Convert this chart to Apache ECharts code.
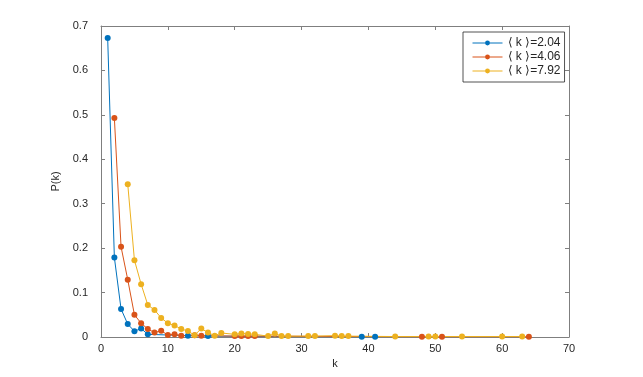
<!DOCTYPE html>
<html>
<head>
<meta charset="utf-8">
<script src="https://cdn.jsdelivr.net/npm/echarts@6/dist/echarts.min.js"></script>
<style>
  html, body { margin: 0; padding: 0; background: #fff; }
  #chart { width: 643px; height: 377px; }
</style>
</head>
<body>
<div id="chart"></div>
<script>
// degree distributions
var names = ['\u27e8 k \u27e9=2.04', '\u27e8 k \u27e9=4.06', '\u27e8 k \u27e9=7.92'];
var colors = ['#0072BD', '#D95319', '#EDB120'];

var k1 = [1, 2, 3, 4, 5, 6, 7, 13, 16, 39, 41];
var p1 = [0.673, 0.179, 0.063, 0.029, 0.013, 0.019, 0.006, 0.003, 0.002, 0.0005, 0.0005];

var k2 = [2, 3, 4, 5, 6, 7, 8, 9, 10, 11, 12, 14, 15, 20, 21, 22, 23, 48, 51, 64];
var p2 = [0.493, 0.203, 0.129, 0.050, 0.031, 0.018, 0.010, 0.014, 0.0045, 0.006, 0.003, 0.004, 0.003, 0.002, 0.002, 0.002, 0.002, 0.0005, 0.0005, 0.0005];

var k3 = [4, 5, 6, 7, 8, 9, 10, 11, 12, 13, 14, 15, 16, 17, 18, 20, 21, 22, 23, 25, 26, 27, 28, 31, 32, 35, 36, 37, 44, 49, 50, 54, 60, 63];
var p3 = [0.344, 0.173, 0.119, 0.072, 0.061, 0.043, 0.031, 0.026, 0.018, 0.0135, 0.004, 0.019, 0.010, 0.003, 0.009, 0.006, 0.008, 0.007, 0.006, 0.002, 0.008, 0.002, 0.002, 0.002, 0.002, 0.003, 0.002, 0.002, 0.001, 0.001, 0.001, 0.001, 0.001, 0.001];

var xTicks = [0, 10, 20, 30, 40, 50, 60, 70];
var yTicks = [0, 0.1, 0.2, 0.3, 0.4, 0.5, 0.6, 0.7];

function pairs(ks, ps) {
    return ks.map(function (k, i) { return [k, ps[i]]; });
}

var myChart = echarts.init(document.getElementById('chart'));

var axisCol = '#7f7f7f';
var textCol = '#262626';

function xAx(pos, labels) {
    return {
        type: 'value', position: pos, min: xTicks[0], max: xTicks[xTicks.length - 1], interval: 10,
        name: labels ? 'k' : '', nameLocation: 'middle', nameGap: 18,
        nameTextStyle: { color: textCol, fontSize: 11, fontFamily: 'Liberation Sans' },
        axisLine: { show: true, onZero: false, lineStyle: { color: axisCol, width: 1 } },
        axisTick: { show: true, inside: true, length: 4, lineStyle: { color: axisCol } },
        axisLabel: { show: labels, color: textCol, fontSize: 11, fontFamily: 'Liberation Sans', margin: 6 },
        splitLine: { show: false }
    };
}
function yAx(pos, labels) {
    return {
        type: 'value', position: pos, min: yTicks[0], max: yTicks[yTicks.length - 1], interval: 0.1,
        name: labels ? 'P(k)' : '', nameLocation: 'middle', nameGap: 30,
        nameTextStyle: { color: textCol, fontSize: 11, fontFamily: 'Liberation Sans' },
        axisLine: { show: true, onZero: false, lineStyle: { color: axisCol, width: 1 } },
        axisTick: { show: true, inside: true, length: 4, lineStyle: { color: axisCol } },
        axisLabel: {
            show: labels, color: textCol, fontSize: 11, fontFamily: 'Liberation Sans', margin: 13,
            formatter: function (v) { return String(Math.round(v * 10) / 10); }
        },
        splitLine: { show: false }
    };
}

function line(i, data) {
    return {
        name: names[i], type: 'line', data: data,
        xAxisIndex: 0, yAxisIndex: 0,
        symbol: 'circle', symbolSize: 6, showAllSymbol: true,
        lineStyle: { color: colors[i], width: 1 },
        itemStyle: { color: colors[i] },
        animation: false
    };
}

var option = {
    backgroundColor: '#fff',
    grid: { left: 101, right: 74, top: 26, bottom: 40 },
    xAxis: [xAx('bottom', true), xAx('top', false)],
    yAxis: [yAx('left', true), yAx('right', false)],
    legend: {
        left: 463, top: 32, orient: 'vertical',
        data: names,
        itemWidth: 30, itemHeight: 6, itemGap: 0,
        padding: [4, 4, 4, 9],
        borderColor: '#262626', borderWidth: 0.8,
        backgroundColor: '#fff',
        lineStyle: { width: 1 },
        textStyle: { color: textCol, fontSize: 12, lineHeight: 14, fontFamily: 'Liberation Sans' }
    },
    series: [line(0, pairs(k1, p1)), line(1, pairs(k2, p2)), line(2, pairs(k3, p3))]
};

myChart.setOption(option);
</script>
</body>
</html>
